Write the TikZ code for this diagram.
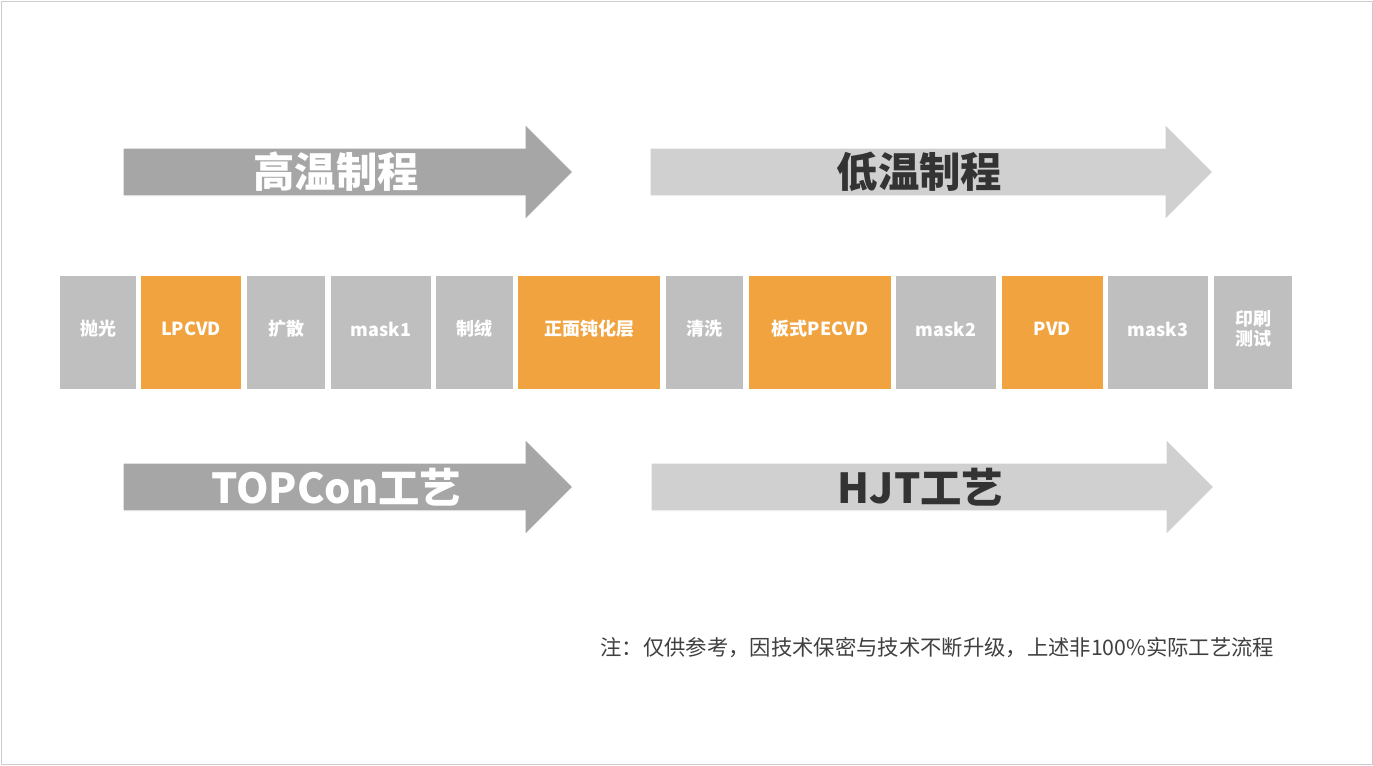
\documentclass[tikz,border=0pt]{standalone}
\usepackage{fontspec}
\setmainfont{Noto Sans CJK SC}
\begin{document}
\begin{tikzpicture}[x=0.75pt,y=-0.75pt,
 box/.style={draw=none,inner sep=0pt,text=white,font=\fontsize{13.5}{15}\selectfont\bfseries,align=center}]
\definecolor{boxgray}{HTML}{BFBFBF}
\definecolor{boxorange}{HTML}{F0A33F}
\definecolor{darkarrow}{HTML}{A6A6A6}
\definecolor{lightarrow}{HTML}{D0D0D0}
\definecolor{txt}{HTML}{404040}
\useasboundingbox (0,0) rectangle (1373,765);
\draw[draw=black!20,fill=white] (1,1) rectangle (1372,764);
\newcommand\bx[5]{\fill[#4] (#1,276) rectangle (#2,389); \node[box] (#5) at ({(#1+#2)/2},329) {#3};}
\bx{60}{136}{抛光}{boxgray}{b1}
\bx{141}{241}{LPCVD}{boxorange}{b2}
\bx{247}{325}{扩散}{boxgray}{b3}
\bx{331}{431}{mask1}{boxgray}{b4}
\bx{436}{513}{制绒}{boxgray}{b5}
\bx{518}{660}{正面钝化层}{boxorange}{b6}
\bx{666}{743}{清洗}{boxgray}{b7}
\bx{749}{891}{板式PECVD}{boxorange}{b8}
\bx{896}{996}{mask2}{boxgray}{b9}
\bx{1002}{1103}{PVD}{boxorange}{b10}
\bx{1108}{1208}{mask3}{boxgray}{b11}
\bx{1214}{1292}{印刷\\测试}{boxgray}{b12}
\newcommand\arr[8]{\draw[white,line width=1pt,fill=#5] (#1,#3) -- (#2,#3) -- (#2,#3-24) -- (#2+48,#3+24) -- (#2,#3+72) -- (#2,#3+48) -- (#1,#3+48) -- cycle;
 \node[text=#6,font=\fontsize{31}{33}\selectfont\bfseries] (#8) at ({(#1+#2)/2+12},#3+24) {#7};}
\arr{123}{525}{148}{}{darkarrow}{white}{高温制程}{a1}
\arr{650}{1165}{148}{}{lightarrow}{black!80}{低温制程}{a2}
\arr{123}{525}{463}{}{darkarrow}{white}{TOPCon工艺}{a3}
\arr{651}{1166}{463}{}{lightarrow}{black!80}{HJT工艺}{a4}
\node[anchor=east,text=txt,font=\fontsize{16}{18}\selectfont] (note) at (1279,648) {注：仅供参考，因技术保密与技术不断升级，上述非100\%实际工艺流程};
\end{tikzpicture}
\end{document}
